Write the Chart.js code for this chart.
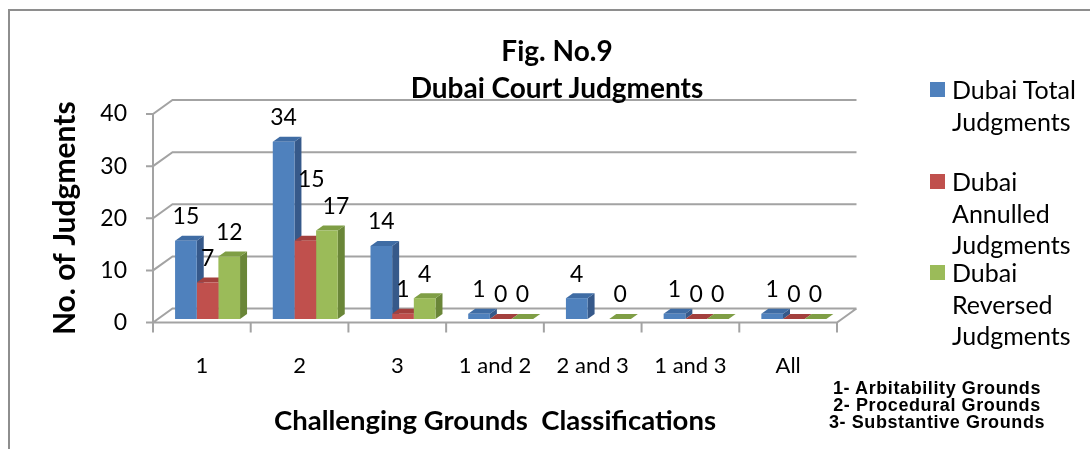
<!DOCTYPE html>
<html>
<head>
<meta charset="utf-8">
<script src="https://cdn.jsdelivr.net/npm/chart.js@4.4.0/dist/chart.umd.min.js"></script>
<style>
html, body { margin: 0; padding: 0; background: #fff; }
#wrap { position: relative; width: 1090px; height: 449px; overflow: hidden; }
#frame { position: absolute; left: 8px; top: 9px; width: 1200px; height: 500px;
         border-left: 2px solid #8e8e8e; border-top: 2px solid #8e8e8e; }
canvas { position: absolute; left: 0; top: 0; }
#title { position: absolute; left: 357px; top: 32px; width: 400px; text-align: center;
         font: bold 28px Lato; line-height: 37px; color: #000; }
.leg { position: absolute; left: 930px; font: 25px Lato; line-height: 31.7px; color: #000; white-space: pre-line; }
.leg i { position: absolute; left: 0; top: 8px; width: 15px; height: 15px; }
.leg span { display: block; margin-left: 22px; }
#notes { position: absolute; left: 812px; top: 380px; width: 250px; text-align: center;
         font: bold 18px "Liberation Sans"; line-height: 17px; letter-spacing: 0.6px; color: #000; }
</style>
</head>
<body>
<div id="wrap">
  <div id="frame"></div>
  <canvas id="myChart" width="1090" height="449"></canvas>
  <div id="title">Fig. No.9<br>Dubai Court Judgments</div>
  <div id="legend"></div>
  <div id="notes">1- Arbitability Grounds<br>2- Procedural Grounds<br>3- Substantive Grounds</div>
</div>
<script>
var categories = ["1", "2", "3", "1 and 2", "2 and 3", "1 and 3", "All"];
var totalJudgments = [15, 34, 14, 1, 4, 1, 1];
var annulledJudgments = [7, 15, 1, 0, null, 0, 0];
var reversedJudgments = [12, 17, 4, 0, 0, 0, 0];
var seriesNames = ["Dubai Total Judgments", "Dubai Annulled Judgments", "Dubai Reversed Judgments"];
var legendText = ["Dubai Total\nJudgments", "Dubai\nAnnulled\nJudgments", "Dubai\nReversed\nJudgments"];
var yTicks = [0, 10, 20, 30, 40];

var colors = ["#4f81bd", "#c0504d", "#9bbb59"];
var topColors = ["#3f6ca4", "#a3403d", "#7f9e45"];
var sideColors = ["#36598a", "#8a3735", "#6a8638"];
var gridColor = "#a3a3a3";

// box depth, where the bars sit in it, and depth of one bar
var DX = 19.5, DY = -14;
var BX = 5.7, BY = -3.5;
var SX = 7, SY = -5;

// labels that were dragged by hand in the original ("dataset,index": [dx, dy])
var labelMoves = { "1,1": [6, -37], "2,1": [9, 0] };

/*
 * legend in html, so the names can wrap like the original
 */
var legendTops = [74, 166, 257];
var legend = document.getElementById("legend");
for (var i = 0; i < legendText.length; i++) {
    var d = document.createElement("div");
    d.className = "leg";
    d.style.top = legendTops[i] + "px";
    d.innerHTML = '<i style="background:' + colors[i] + '"></i><span></span>';
    d.querySelector("span").textContent = legendText[i];
    legend.appendChild(d);
}

/*
 * fake 3d: walls, floor, bar sides and tops, value labels
 */
var box3d = {
    id: "box3d",
    beforeDatasetsDraw: function(chart) {
        var ctx = chart.ctx;
        var a = chart.chartArea;
        var y = chart.scales.y;
        var n = categories.length;
        ctx.save();
        ctx.strokeStyle = gridColor;
        ctx.lineWidth = 2;
        ctx.beginPath();
        yTicks.forEach(function(v) {
            var py = y.getPixelForValue(v);
            ctx.moveTo(a.left - 7, py);
            ctx.lineTo(a.left, py);
            ctx.lineTo(a.left + DX, py + DY);
            ctx.lineTo(a.right + DX, py + DY);
        });
        ctx.moveTo(a.left - 7, a.bottom);
        ctx.lineTo(a.right, a.bottom);
        ctx.lineTo(a.right + DX, a.bottom + DY);
        ctx.moveTo(a.left, a.top);
        ctx.lineTo(a.left, a.bottom + 10);
        for (var i = 1; i <= n; i++) {
            var px = a.left + i * (a.right - a.left) / n;
            ctx.moveTo(px, a.bottom);
            ctx.lineTo(px, a.bottom + 10);
        }
        ctx.stroke();
        ctx.restore();

        ctx.save();
        ctx.translate(BX, BY);
        // sides and tops first, chart.js paints the fronts over them
        for (var j = 0; j < n; j++) {
            for (var k = 0; k < chart.data.datasets.length; k++) {
                if (chart.data.datasets[k].data[j] == null) continue;
                var el = chart.getDatasetMeta(k).data[j];
                var l = el.x - el.width / 2, r = el.x + el.width / 2;
                ctx.fillStyle = sideColors[k];
                ctx.beginPath();
                ctx.moveTo(r, el.base);
                ctx.lineTo(r, el.y);
                ctx.lineTo(r + SX, el.y + SY);
                ctx.lineTo(r + SX, el.base + SY);
                ctx.closePath();
                ctx.fill();
                ctx.fillStyle = topColors[k];
                ctx.beginPath();
                ctx.moveTo(l, el.y);
                ctx.lineTo(r, el.y);
                ctx.lineTo(r + SX, el.y + SY);
                ctx.lineTo(l + SX, el.y + SY);
                ctx.closePath();
                ctx.fill();
            }
        }
    },
    afterDatasetsDraw: function(chart) {
        var ctx = chart.ctx;
        ctx.restore();
        ctx.save();
        ctx.fillStyle = "#000";
        ctx.font = "23px Lato";
        ctx.textAlign = "center";
        ctx.textBaseline = "middle";
        chart.data.datasets.forEach(function(ds, k) {
            chart.getDatasetMeta(k).data.forEach(function(el, j) {
                if (ds.data[j] == null) return;
                var mv = labelMoves[k + "," + j] || [0, 0];
                ctx.fillText(ds.data[j], el.x + BX + mv[0], el.y + BY - 24 + mv[1]);
            });
        });
        ctx.restore();
    }
};

var chart = new Chart(document.getElementById("myChart").getContext("2d"), {
    type: "bar",
    data: {
        labels: categories,
        datasets: [
            { label: seriesNames[0], data: totalJudgments, backgroundColor: colors[0] },
            { label: seriesNames[1], data: annulledJudgments, backgroundColor: colors[1] },
            { label: seriesNames[2], data: reversedJudgments, backgroundColor: colors[2] }
        ]
    },
    options: {
        responsive: false,
        animation: false,
        categoryPercentage: 0.665,
        barPercentage: 1.0,
        layout: { padding: { left: 0, right: 253, top: 114, bottom: 0 } },
        plugins: {
            legend: { display: false },
            title: { display: false },
            tooltip: { enabled: false }
        },
        datasets: { bar: { clip: false, borderWidth: 0 } },
        scales: {
            x: {
                grid: { display: false, drawTicks: false },
                border: { display: false },
                ticks: { color: "#000", font: { family: "Lato", size: 22 }, padding: 30 },
                title: {
                    display: true,
                    text: "Challenging Grounds  Classifications",
                    color: "#000",
                    font: { family: "Lato", size: 27.5, weight: "bold" },
                    padding: { top: 0, bottom: 11 }
                },
                afterFit: function(s) { s.height = 126.5; }
            },
            y: {
                min: 0,
                max: 40,
                grid: { display: false, drawTicks: false },
                border: { display: false },
                ticks: { stepSize: 10, color: "#000", font: { family: "Lato", size: 23 }, padding: 26 },
                title: {
                    display: true,
                    text: "No. of Judgments",
                    color: "#000",
                    font: { family: "Lato", size: 30, weight: "bold" },
                    padding: { top: 47, bottom: 0 }
                },
                afterFit: function(s) { s.width = 153; }
            }
        }
    },
    plugins: [box3d]
});
</script>
</body>
</html>
